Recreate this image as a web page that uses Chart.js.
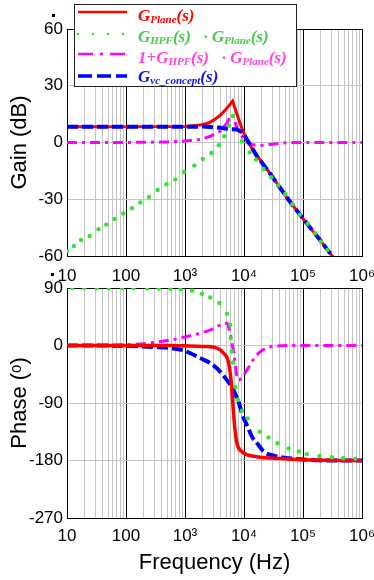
<!DOCTYPE html>
<html>
<head>
<meta charset="utf-8">
<script src="https://cdn.jsdelivr.net/npm/chart.js@4.4.1/dist/chart.umd.min.js"></script>
<style>
  html, body { margin: 0; padding: 0; background: #fff; }
  #wrap { position: relative; width: 374px; height: 580px; overflow: hidden; }
  #gain { position: absolute; left: 0; top: 0; }
  #phase { position: absolute; left: 0; top: 270px; }
</style>
</head>
<body>
<div id="wrap">
  <canvas id="gain" width="374" height="285"></canvas>
  <canvas id="phase" width="374" height="310"></canvas>
</div>
<script>
// axis ticks / labels
const decadeTicks = [10, 100, 1000, 10000, 100000, 1000000];
const decadeLabels = ['10', '100', '10³', '10⁴', '10⁵', '10⁶'];
const gainTicks = [-60, -30, 0, 30, 60];
const phaseTicks = [-270, -180, -90, 0, 90];

// Gain (dB)
const fPlaneGain = [10, 100, 1000, 1800, 2500, 3050, 4000, 5150, 6400, 7600, 8900, 10200, 12000, 14600, 17700, 25000, 35000, 56000, 1e5, 2e5, 3.2e5, 3.6e5];
const gainPlane = [8.3, 8.3, 8.5, 9.2, 10.3, 11.8, 14.5, 18.2, 21.9, 14.9, 8.7, 4.2, -0.2, -4.6, -8.1, -14.5, -21, -30, -40.2, -52, -60.5, -62.5];

const fHpfGain = [10, 13.1, 17.3, 24.2, 34.3, 46.3, 64.1, 90, 126, 175, 245, 344, 484, 684, 960, 1440, 2000, 2800, 3740, 4650, 5530, 6500, 9200, 12500, 16000, 21500, 29000, 38000, 50000, 66000, 88000, 120000, 160000, 200000, 260000, 340000];
const gainHpf = [-57.4, -54.7, -51.5, -49.4, -45.8, -43.4, -40.5, -37.5, -34.7, -31.7, -28.8, -25.1, -22.1, -19.5, -15.6, -12.2, -8.7, -5.5, -1.4, 3.3, 9, 14, 0.7, -5.2, -9, -14, -18.4, -22.7, -27.2, -32.6, -38.2, -43, -48, -52.4, -56.8, -61];

const fOnePlusGain = [10, 100, 500, 1000, 1830, 2680, 3970, 5150, 6240, 7000, 7600, 9200, 11000, 13700, 19000, 28000, 56000, 1e6];
const gainOnePlus = [0, 0, 0.3, 0.8, 1.6, 3.3, 6, 10.4, 14.9, 11, 7.8, 3.3, 0.2, -1.2, -1.6, -1, 0, 0];

const fConceptGain = [10, 100, 1000, 2000, 3000, 4000, 5000, 6000, 7600, 9600, 11200, 13700, 16600, 25000, 35000, 56000, 1e5, 2e5, 3.2e5, 3.6e5];
const gainConcept = [8.3, 8.3, 8.3, 8.4, 8.1, 7.8, 7.3, 7.0, 6.9, 5.2, 1.6, -2.8, -7.3, -14.5, -21, -30, -40.2, -52, -60.5, -62.5];

// Phase (deg)
const fPlanePhase = [10, 100, 565, 1000, 2070, 3480, 4520, 5500, 6100, 6400, 6950, 7600, 9200, 16600, 46000, 1e5, 1e6];
const phasePlane = [0, 0, 0, -0.5, -1.5, -4, -12, -27.5, -59, -85, -127, -153, -166, -174, -177, -179, -180];

const fHpfPhase = [12.2, 19.6, 32.3, 50.8, 85, 134, 228, 357, 565, 834, 1315, 1940, 2680, 3810, 5150, 5860, 5950, 6240, 6500, 7150, 7850, 9200, 11500, 18500, 26000, 37000, 57000, 85000, 116000, 190000, 310000, 480000, 770000];
const phaseHpf = [90, 90, 90, 90, 89.9, 89.8, 89.6, 89.3, 89, 88.4, 86.2, 81, 75.2, 66.5, 49.7, 32.4, 11.6, -9.4, -26.6, -65, -85, -102, -114, -135, -144, -153, -161, -166, -170, -173, -175, -176.5, -177];

const fOnePlusPhase = [10, 100, 294, 600, 1080, 1830, 2700, 3980, 5200, 5700, 6000, 6300, 6700, 7200, 7600, 8200, 9200, 11000, 13700, 17700, 24500, 42000, 1e5, 1e6];
const phaseOnePlus = [0, 1, 4.7, 9, 14, 19.4, 24.6, 32, 35, 22, 14, 2, -12, -33, -50, -54, -50, -40, -25, -12, -4, -0.5, 0, 0];

const fConceptPhase = [10, 100, 294, 565, 950, 1830, 2680, 3930, 5100, 5950, 6800, 8200, 9400, 11500, 13700, 17700, 21500, 32000, 90000, 3e5, 1e6];
const phaseConcept = [0, -0.5, -2.5, -4, -7.8, -20, -27.6, -40.7, -53.8, -62, -72, -90, -108.6, -127, -143, -156, -166, -172.5, -178, -180, -180];

const RED = '#ff0000', GREEN = '#2ee82e', MAGENTA = '#ff00ff', BLUE = '#0000ff';
const GRID = '#c4c4c4';

Chart.defaults.font.family = '"Liberation Sans", Arial, sans-serif';
Chart.defaults.color = '#000';

function pts(xs, ys) {
  return xs.map((x, i) => ({x: x, y: ys[i]}));
}

// 1..9 in every decade, for the grid
const gridFreqs = [];
decadeTicks.slice(0, -1).forEach(d => {
  for (let m = 1; m < 10; m++) gridFreqs.push(d * m);
});
gridFreqs.push(1e6);

function xScale(tickPad, height, title) {
  return {
    type: 'logarithmic',
    min: 10,
    max: 1e6,
    afterBuildTicks: s => { s.ticks = gridFreqs.map(v => ({value: v})); },
    afterFit: s => {
      s.height = height;
      // keep the end labels from squeezing the plot
      s.paddingLeft = 0;
      s.paddingRight = 0;
    },
    ticks: {
      autoSkip: false, maxRotation: 0, minRotation: 0,
      padding: tickPad, font: {size: 17},
      callback: v => {
        const i = decadeTicks.indexOf(v);
        return i >= 0 ? decadeLabels[i] : '';
      }
    },
    grid: {
      drawTicks: false,
      color: c => decadeTicks.includes(c.tick.value) ? '#000' : GRID
    },
    border: {color: '#000', width: 1},
    title: title
      ? {display: true, text: title, font: {size: 22}, padding: {top: 0, bottom: 3.5}}
      : {display: false}
  };
}

function yScale(ticks, title) {
  const lo = ticks[0], hi = ticks[ticks.length - 1];
  return {
    min: lo,
    max: hi,
    afterBuildTicks: s => { s.ticks = ticks.map(v => ({value: v})); },
    afterFit: s => {
      s.width = 67;
      s.paddingTop = 0;
      s.paddingBottom = 0;
    },
    ticks: {padding: 4, font: {size: 17}},
    grid: {
      drawTicks: false,
      color: c => (c.tick.value === lo || c.tick.value === hi) ? '#000' : GRID
    },
    border: {color: '#000', width: 1},
    title: {display: true, text: title, font: {size: 22}, padding: {top: 7}}
  };
}

function lineSet(data, color, width, dash, order, smooth) {
  return {
    data: data, borderColor: color, backgroundColor: color, borderWidth: width,
    borderDash: dash, pointRadius: 0, order: order, fill: false,
    cubicInterpolationMode: smooth ? 'monotone' : 'default', tension: 0
  };
}

function dotSet(data, order) {
  return {
    data: data, showLine: false, pointRadius: 2.2, pointBorderWidth: 0,
    pointBackgroundColor: GREEN, borderColor: GREEN, order: order
  };
}

// legend with subscripts
const legendRows = [
  {line: 'solid', color: RED, text: RED, parts: [['G'], ['Plane', 1], ['(s)']]},
  {line: 'dots', color: GREEN, text: '#44cc44', parts: [['G'], ['HPF', 1], ['(s)'], ['   · '], ['G'], ['Plane', 1], ['(s)']]},
  {line: 'dashdot', color: MAGENTA, text: '#ff44dd', parts: [['1+G'], ['HPF', 1], ['(s)'], ['   · '], ['G'], ['Plane', 1], ['(s)']]},
  {line: 'dash', color: BLUE, text: '#1111ee', parts: [['G'], ['vc_concept', 1], ['(s)']]}
];
const legendLineY = [12, 34, 54, 76];
const legendBase = [21, 42, 63, 82];

const legendPlugin = {
  id: 'richLegend',
  afterDraw(chart) {
    const ctx = chart.ctx;
    ctx.save();
    ctx.fillStyle = '#fff';
    ctx.fillRect(74, 4, 222, 82);
    ctx.strokeStyle = '#222';
    ctx.lineWidth = 1;
    ctx.strokeRect(74.5, 4.5, 222, 82);

    legendRows.forEach((row, i) => {
      const y = legendLineY[i];
      ctx.strokeStyle = row.color;
      ctx.fillStyle = row.color;
      if (row.line === 'dots') {
        [78, 93, 108, 123].forEach(x => {
          ctx.beginPath();
          ctx.arc(x, y, 1.3, 0, Math.PI * 2);
          ctx.fill();
        });
      } else {
        ctx.lineWidth = row.line === 'dash' ? 3.5 : 2.5;
        ctx.setLineDash(row.line === 'dash' ? [14, 5] : row.line === 'dashdot' ? [15, 7, 3, 7] : []);
        ctx.beginPath();
        ctx.moveTo(78, y);
        ctx.lineTo(127, y);
        ctx.stroke();
        ctx.setLineDash([]);
      }

      let x = 138;
      ctx.fillStyle = row.text;
      ctx.textBaseline = 'alphabetic';
      row.parts.forEach(p => {
        const sub = p[1] === 1;
        ctx.font = sub ? 'bold italic 11px "Liberation Serif"' : 'bold italic 17px "Liberation Serif"';
        ctx.fillText(p[0], x, legendBase[i] + (sub ? 2 : 0));
        x += ctx.measureText(p[0]).width;
      });
    });

    // two small stray marks seen in the figure
    ctx.fillStyle = '#000';
    ctx.fillRect(52, 14, 3, 3);
    ctx.fillRect(51, 273, 3, 3);
    ctx.restore();
  }
};

const common = {
  responsive: false,
  animation: false,
  events: [],
  plugins: {legend: {display: false}, tooltip: {enabled: false}}
};

new Chart(document.getElementById('gain'), {
  type: 'line',
  data: {
    datasets: [
      lineSet(pts(fPlaneGain, gainPlane), RED, 3, [], 2, false),
      dotSet(pts(fHpfGain, gainHpf), 0),
      lineSet(pts(fOnePlusGain, gainOnePlus), MAGENTA, 3, [10, 5, 3, 5], 3, false),
      lineSet(pts(fConceptGain, gainConcept), BLUE, 4, [11, 4], 1, false)
    ]
  },
  options: Object.assign({}, common, {
    layout: {padding: {top: 29, right: 12, bottom: 0, left: 0}},
    scales: {
      x: xScale(10, 29, null),
      y: yScale(gainTicks, 'Gain (dB)')
    }
  }),
  plugins: [legendPlugin]
});

new Chart(document.getElementById('phase'), {
  type: 'line',
  data: {
    datasets: [
      lineSet(pts(fPlanePhase, phasePlane), RED, 3.5, [], 1, true),
      dotSet(pts(fHpfPhase, phaseHpf), 0),
      lineSet(pts(fOnePlusPhase, phaseOnePlus), MAGENTA, 3, [10, 5, 3, 5], 3, true),
      lineSet(pts(fConceptPhase, phaseConcept), BLUE, 4, [11, 4], 2, true)
    ]
  },
  options: Object.assign({}, common, {
    layout: {padding: {top: 18, right: 12, bottom: 0, left: 0}},
    scales: {
      x: xScale(8, 62, 'Frequency (Hz)'),
      y: yScale(phaseTicks, 'Phase (ᵒ)')
    }
  })
});
</script>
</body>
</html>
